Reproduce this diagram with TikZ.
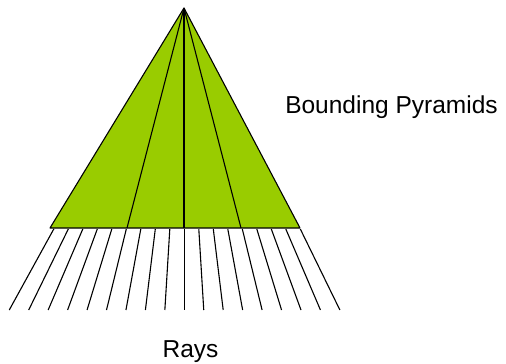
\documentclass[tikz,border=0pt]{standalone}
\usepackage{fontspec}
\setmainfont{Liberation Sans}
\definecolor{pyrgreen}{HTML}{99CC00}
\begin{document}
\begin{tikzpicture}[x=1pt,y=-1pt,
  edge/.style={draw=black,line width=1.1pt,line join=round},
  ray/.style={draw=black,line width=1.1pt},
  lbl/.style={font=\fontsize{24.5}{28}\selectfont,anchor=base,inner sep=0pt}]
\useasboundingbox (0,0) rectangle (506,364);
\coordinate (apex) at (184,8);
\coordinate (bl) at (50,228);
\coordinate (br) at (300,228);
\coordinate (b1) at (127,228);
\coordinate (b2) at (184,228);
\coordinate (b3) at (241,228);
\fill[pyrgreen] (apex) -- (bl) -- (br) -- cycle;
\draw[edge] (apex) -- (b1);
\draw[edge] (apex) -- (b2);
\draw[edge] (apex) -- (b3);
\draw[edge] (apex) -- (bl) -- (br) -- cycle;
\foreach \i in {-9,...,8} {
  \coordinate (rt\i) at ({184.3+14.5*\i},229);
  \coordinate (rb\i) at ({184.3+19.45*\i},310);
  \draw[ray] (rt\i) -- (rb\i);
}
\node[lbl] (bp) at (391.5,113) {Bounding Pyramids};
\node[lbl] (rays) at (190.5,357) {Rays};
\end{tikzpicture}
\end{document}
